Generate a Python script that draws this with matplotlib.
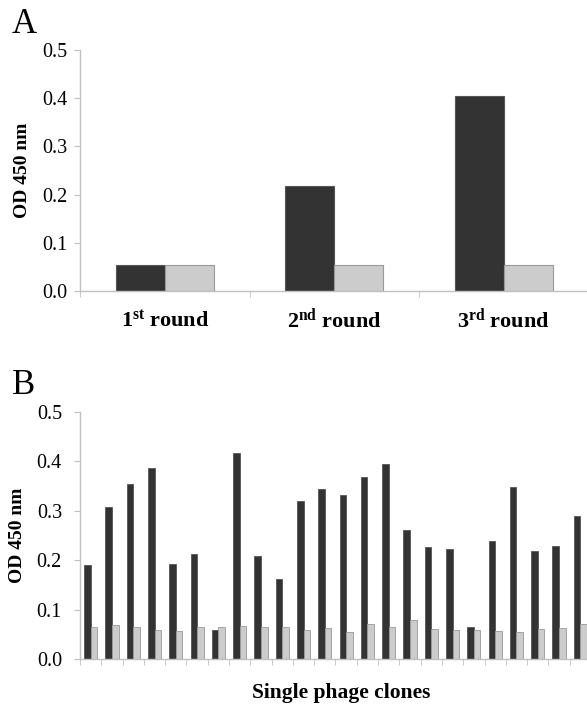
import numpy as np
import matplotlib
matplotlib.use("Agg")
import matplotlib.pyplot as plt

plt.rcParams["font.family"] = "Liberation Serif"
plt.rcParams["mathtext.fontset"] = "custom"
plt.rcParams["mathtext.rm"] = "Liberation Serif"
plt.rcParams["mathtext.bf"] = "Liberation Serif:bold"
plt.rcParams["mathtext.it"] = "Liberation Serif:italic"

# panel A: panning rounds
rounds = [r"1$^{\mathbf{st}}$ round", r"2$^{\mathbf{nd}}$ round", r"3$^{\mathbf{rd}}$ round"]
a_target = [0.053, 0.218, 0.404]
a_control = [0.054, 0.053, 0.053]

# panel B: single phage clones
b_target = [0.191, 0.308, 0.354, 0.386, 0.193, 0.212, 0.058, 0.416, 0.209, 0.161,
            0.320, 0.345, 0.331, 0.368, 0.394, 0.261, 0.226, 0.222, 0.064, 0.238,
            0.348, 0.219, 0.228, 0.289]
b_control = [0.064, 0.068, 0.065, 0.059, 0.056, 0.064, 0.065, 0.066, 0.065, 0.065,
             0.058, 0.062, 0.054, 0.070, 0.065, 0.079, 0.061, 0.059, 0.058, 0.057,
             0.055, 0.061, 0.062, 0.070]

dark = "#333333"
light = "#cccccc"
spine = "#c0c0c0"

W, H = 587, 706
fig = plt.figure(figsize=(W / 100, H / 100), dpi=100)


def style(ax, n, pad):
    for s in ["top", "right"]:
        ax.spines[s].set_visible(False)
    for s in ["left", "bottom"]:
        ax.spines[s].set_color(spine)
        ax.spines[s].set_linewidth(1.0)
    ax.set_ylim(0, 0.5)
    ax.set_yticks(np.arange(0, 0.51, 0.1))
    ax.set_yticklabels(["%.1f" % v for v in np.arange(0, 0.51, 0.1)], fontsize=14.5)
    ax.tick_params(axis="y", direction="out", length=4, color=spine, pad=pad)
    ax.set_xlim(-0.5, n - 0.5)
    ax.set_xticks(np.arange(n + 1) - 0.5, minor=True)
    ax.tick_params(axis="x", which="minor", direction="out", length=4, color=spine)
    ax.tick_params(axis="x", which="major", length=0)
    ax.set_ylabel("OD 450 nm", fontsize=14, fontweight="bold", labelpad=8)


# panel A
axA = fig.add_axes([80 / W, 1 - 291 / H, 508.5 / W, 241 / H])
x = np.arange(len(rounds))
bw = 0.289
axA.bar(x - bw / 2, a_target, bw, color=dark, edgecolor="#555555", linewidth=0.8)
axA.bar(x + bw / 2, a_control, bw, color=light, edgecolor="#999999", linewidth=0.8)
style(axA, len(rounds), 5)
axA.set_xticks(x)
axA.set_xticklabels(rounds, fontsize=16, fontweight="bold")
axA.tick_params(axis="x", which="major", pad=26)
for lbl in axA.get_xticklabels():
    lbl.set_va("baseline")
fig.text(12 / W, 1 - 33 / H, "A", fontsize=25, ha="left", va="baseline")

# panel B
axB = fig.add_axes([80 / W, 1 - 659 / H, 511 / W, 247 / H])
xb = np.arange(len(b_target))
bw = 0.31
axB.bar(xb - bw / 2, b_target, bw, color=dark, edgecolor="#555555", linewidth=0.6)
axB.bar(xb + bw / 2, b_control, bw, color=light, edgecolor="#999999", linewidth=0.6)
style(axB, len(b_target), 9)
axB.set_xticks([])
fig.text(341 / W, 1 - 698 / H, "Single phage clones", fontsize=15.5,
         fontweight="bold", ha="center", va="baseline")
fig.text(12 / W, 1 - 394 / H, "B", fontsize=25, ha="left", va="baseline")

fig.savefig("out.png", dpi=100)
